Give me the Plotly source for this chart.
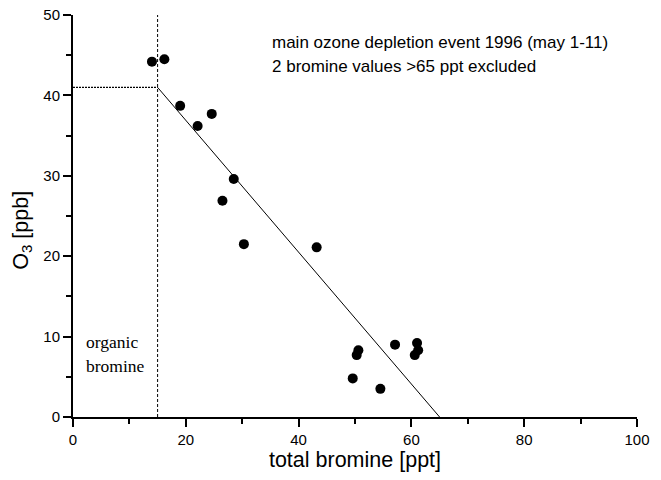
import plotly.graph_objects as go

# Data points
bromine = [14.0, 16.2, 19.0, 22.1, 24.6, 26.5, 28.5, 30.3, 43.2,
           50.6, 50.3, 49.6, 54.5, 57.1, 61.0, 61.2, 60.6]
ozone = [44.2, 44.5, 38.7, 36.2, 37.7, 26.9, 29.6, 21.5, 21.1,
         8.3, 7.7, 4.8, 3.5, 9.0, 9.2, 8.3, 7.7]

# Model lines
organic_x = [15, 15]
organic_y = [0, 50]
plateau_x = [0, 15]
plateau_y = [41, 41]
fit_x = [15, 65]
fit_y = [41, 0]

x_ticks = [0, 20, 40, 60, 80, 100]
y_ticks = [0, 10, 20, 30, 40, 50]

SANS = "Liberation Sans, Arial, Helvetica"
SERIF = "Liberation Serif, Times New Roman"

fig = go.Figure()
fig.add_trace(go.Scatter(x=organic_x, y=organic_y, mode="lines",
                         line=dict(color="black", width=1, dash="3px,2px"),
                         showlegend=False, hoverinfo="skip"))
fig.add_trace(go.Scatter(x=plateau_x, y=plateau_y, mode="lines",
                         line=dict(color="black", width=1.2, dash="2px,1px"),
                         showlegend=False, hoverinfo="skip"))
fig.add_trace(go.Scatter(x=fit_x, y=fit_y, mode="lines",
                         line=dict(color="black", width=1),
                         showlegend=False, hoverinfo="skip"))
fig.add_trace(go.Scatter(x=bromine, y=ozone, mode="markers",
                         marker=dict(color="black", size=10),
                         showlegend=False))

fig.add_annotation(x=35.0, y=46.6, xref="x", yref="y", xanchor="left",
                   text="main ozone depletion event 1996 (may 1-11)",
                   showarrow=False,
                   font=dict(family=SANS, size=17, color="black"))
fig.add_annotation(x=35.0, y=43.6, xref="x", yref="y", xanchor="left",
                   text="2 bromine values >65 ppt excluded",
                   showarrow=False,
                   font=dict(family=SANS, size=17, color="black"))
fig.add_annotation(x=2.0, y=9.3, xref="x", yref="y", xanchor="left",
                   text="organic", showarrow=False,
                   font=dict(family=SERIF, size=17.5, color="black"))
fig.add_annotation(x=2.0, y=6.3, xref="x", yref="y", xanchor="left",
                   text="bromine", showarrow=False,
                   font=dict(family=SERIF, size=17.5, color="black"))
# y-axis title
fig.add_annotation(x=-0.091, y=0.465, xref="paper", yref="paper",
                   xanchor="center", yanchor="middle", textangle=-90,
                   text="O<sub>3</sub> [ppb]", showarrow=False,
                   font=dict(family=SANS, size=21.5, color="black"))

fig.update_xaxes(range=[0, 100], tickvals=x_ticks, showgrid=False, zeroline=False,
                 showline=True, linecolor="black", linewidth=2, automargin=False,
                 ticks="outside", ticklen=8, tickwidth=2, tickcolor="black",
                 minor=dict(dtick=10, ticks="outside", ticklen=5, tickwidth=1.5, tickcolor="black"),
                 tickfont=dict(family=SANS, size=15, color="black"),
                 ticklabeloverflow="allow",
                 title=dict(text="total bromine [ppt]", standoff=17,
                            font=dict(family=SANS, size=21.5, color="black")))
fig.update_yaxes(range=[0, 50], tickvals=y_ticks, showgrid=False, zeroline=False,
                 showline=True, linecolor="black", linewidth=2, automargin=False,
                 ticks="outside", ticklen=8, tickwidth=2, tickcolor="black",
                 minor=dict(dtick=5, ticks="outside", ticklen=5, tickwidth=1.5, tickcolor="black"),
                 tickfont=dict(family=SANS, size=15, color="black"),
                 ticklabeloverflow="allow")

fig.update_layout(width=645, height=464, plot_bgcolor="white", paper_bgcolor="white",
                  margin=dict(l=65, r=16, t=7, b=55))

fig.write_html("out.html")
